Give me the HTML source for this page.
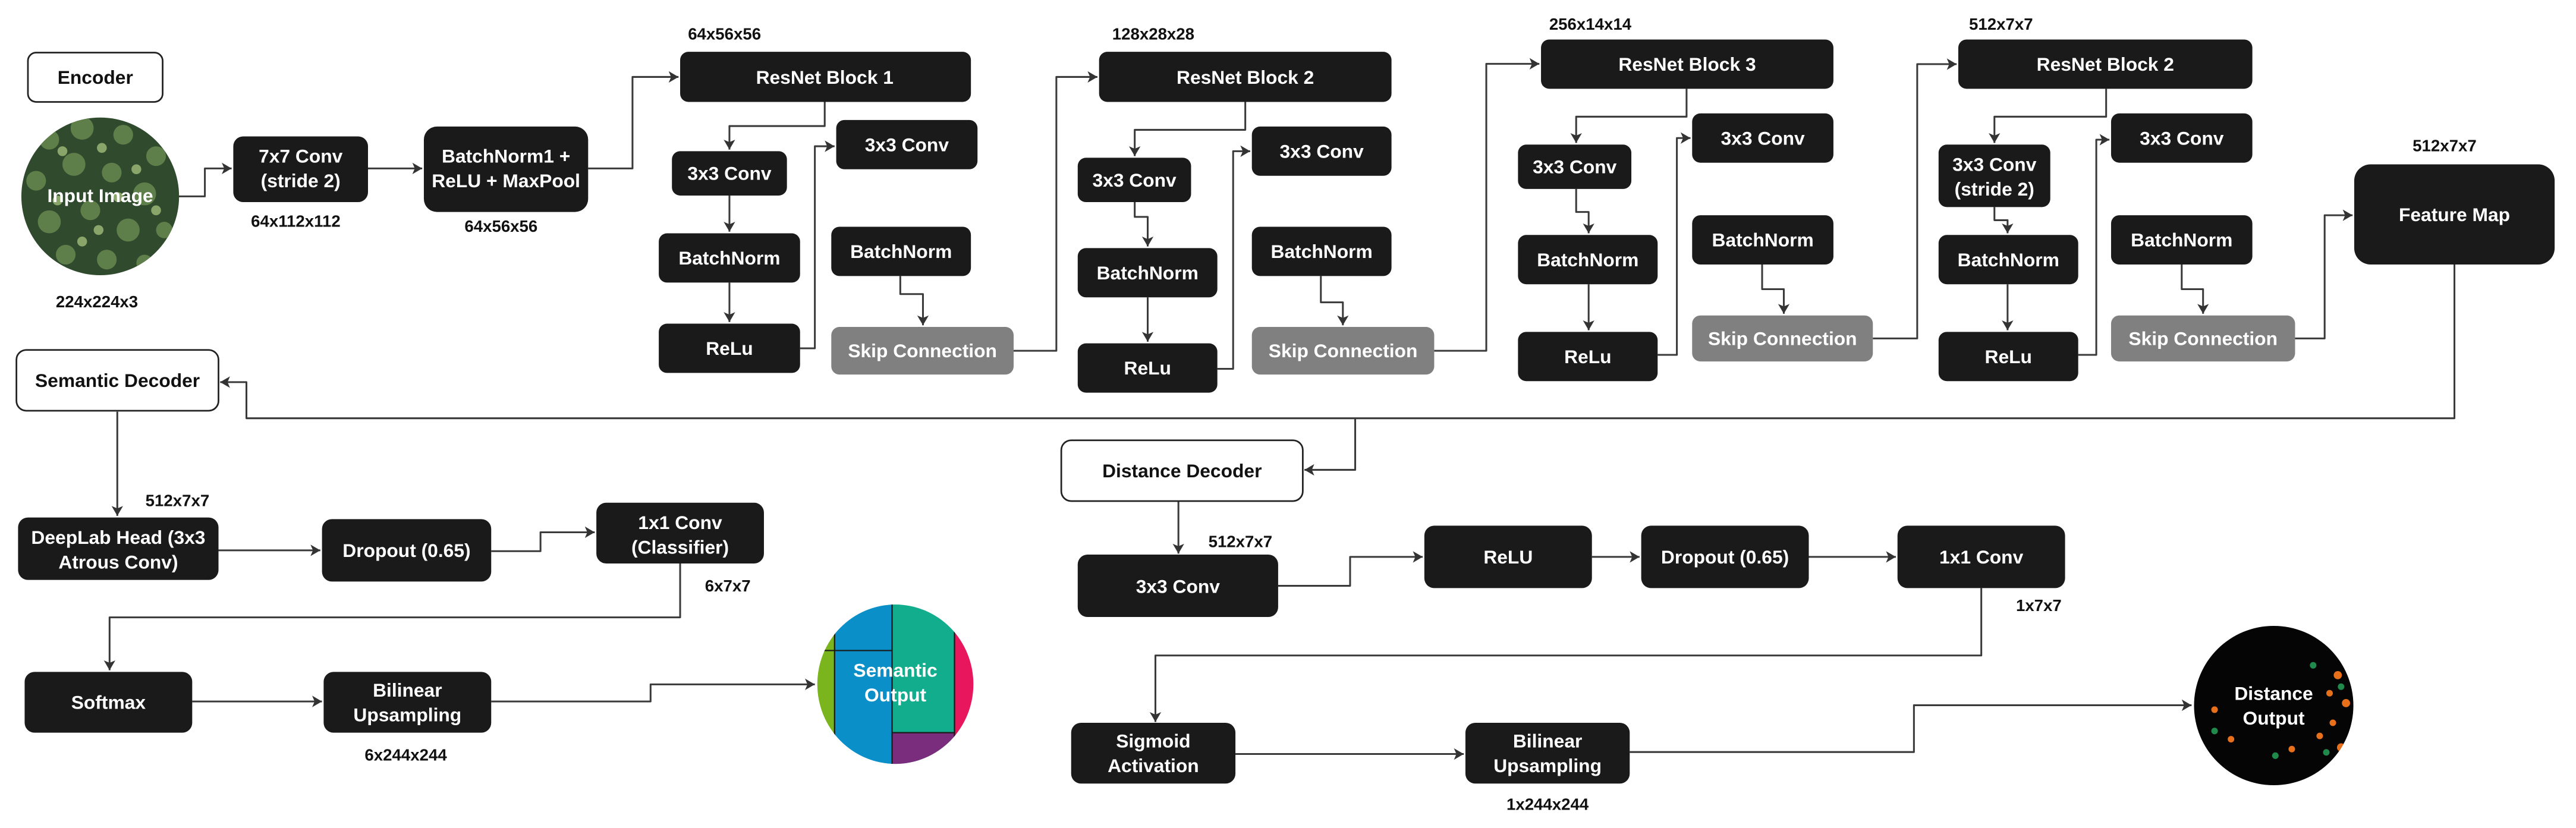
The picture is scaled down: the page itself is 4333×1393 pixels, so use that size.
<!DOCTYPE html>
<html><head><meta charset="utf-8"><style>
html,body{margin:0;padding:0;background:#fff;}
svg{display:block;}
text{font-family:"Liberation Sans",Arial,sans-serif;font-weight:bold;}
</style></head><body>
<svg width="4333" height="1393" viewBox="0 0 1568 504" xmlns="http://www.w3.org/2000/svg">
<defs>
<marker id="a" markerUnits="userSpaceOnUse" markerWidth="8" markerHeight="8" refX="6" refY="4" orient="auto">
<path d="M0,0.5 L6,4 L0,7.5 L1.5,4 Z" fill="#333"/>
</marker>
<clipPath id="c1"><circle cx="61" cy="119.5" r="48"/></clipPath>
<clipPath id="c2"><ellipse cx="545" cy="416.5" rx="47.5" ry="48.5"/></clipPath>
<clipPath id="c3"><ellipse cx="1384" cy="429.5" rx="48.5" ry="48.5"/></clipPath>
</defs>
<rect width="1568" height="504" fill="#fff"/>

<g fill="none" stroke="#3a3a3a" stroke-width="1.1" stroke-linejoin="round" marker-end="url(#a)">
<path d="M108,119.5 H124.7 V102.5 H141"/>
<path d="M224,102.5 H257"/>
<path d="M358,102.5 H385 V46.8 H413"/>
<path d="M502,62 V76.7 H444 V91"/>
<path d="M444,119 V141"/>
<path d="M444,172 V196"/>
<path d="M487,212 H496 V89 H508"/>
<path d="M548,168 V179 H561.8 V198"/>
<path d="M617,213.5 H643 V46.8 H668"/>
<path d="M758,62 V79 H690.7 V95"/>
<path d="M690.7,123 V132 H698.6 V150"/>
<path d="M698.6,181 V208"/>
<path d="M741,224.5 H750.6 V92 H761"/>
<path d="M804,168 V184 H817.4 V198"/>
<path d="M873,213.5 H904.7 V38.8 H937"/>
<path d="M1026.6,54 V71 H959.4 V87"/>
<path d="M959.4,115 V129 H967 V142"/>
<path d="M967,173 V201"/>
<path d="M1009,216 H1020.7 V84 H1029"/>
<path d="M1072.6,161 V176 H1085.8 V191"/>
<path d="M1140,206 H1167 V39 H1191"/>
<path d="M1282,54 V71 H1214 V87"/>
<path d="M1214,126 V134 H1222 V142"/>
<path d="M1222,173 V201"/>
<path d="M1265,216 H1276 V85 H1284"/>
<path d="M1328,161 V176 H1341 V191"/>
<path d="M1397,206 H1415 V131 H1432"/>
<path d="M1494,161 V254.6 H150 V232.6 H134"/>
<path d="M824.9,254.6 V286 H794"/>
<path d="M71.4,250.6 V314"/>
<path d="M133,335 H195"/>
<path d="M299,335.5 H329 V324 H362"/>
<path d="M414,343 V375.8 H66.7 V408"/>
<path d="M117,427 H196"/>
<path d="M299,427 H396 V416.6 H496"/>
<path d="M717.3,305.2 V337"/>
<path d="M778,356.6 H821.8 V339 H866"/>
<path d="M969,339 H998"/>
<path d="M1101,339 H1154"/>
<path d="M1206,358 V399 H703.3 V439.5"/>
<path d="M752,459 H891"/>
<path d="M992,457.8 H1165 V429.3 H1334"/>
</g>

<!-- input image -->
<g clip-path="url(#c1)">
<rect x="10" y="68" width="102" height="104" fill="#2f4a2c"/>
<g fill="#5f7f4a">
<circle cx="30" cy="85" r="6"/><circle cx="50" cy="78" r="7"/><circle cx="75" cy="82" r="6"/><circle cx="95" cy="95" r="6"/>
<circle cx="22" cy="110" r="6"/><circle cx="45" cy="100" r="7"/><circle cx="68" cy="105" r="6"/><circle cx="88" cy="118" r="7"/>
<circle cx="30" cy="135" r="7"/><circle cx="55" cy="128" r="6"/><circle cx="78" cy="140" r="7"/><circle cx="100" cy="140" r="5"/>
<circle cx="40" cy="155" r="6"/><circle cx="65" cy="158" r="6"/><circle cx="88" cy="160" r="5"/><circle cx="18" cy="150" r="4"/>
</g>
<g fill="#8aa56a">
<circle cx="38" cy="92" r="3"/><circle cx="62" cy="90" r="3"/><circle cx="83" cy="103" r="3"/><circle cx="35" cy="122" r="3"/>
<circle cx="60" cy="140" r="3"/><circle cx="95" cy="128" r="3"/><circle cx="50" cy="147" r="3"/><circle cx="72" cy="120" r="3"/>
</g>
</g>
<text x="61" y="123" font-size="11.5" fill="#fff" text-anchor="middle">Input Image</text>

<!-- semantic output -->
<g clip-path="url(#c2)">
<rect x="495" y="366" width="14" height="102" fill="#7ab51d"/>
<rect x="508" y="366" width="35" height="102" fill="#0a8fc8"/>
<rect x="543" y="366" width="38" height="102" fill="#12ad8c"/>
<rect x="581" y="366" width="14" height="102" fill="#e8175d"/>
<rect x="543" y="446" width="38" height="22" fill="#7b2d7d"/>
<g stroke="#1a1a1a" stroke-width="0.8">
<line x1="508" y1="366" x2="508" y2="468"/><line x1="543" y1="366" x2="543" y2="468"/>
<line x1="581" y1="366" x2="581" y2="468"/><line x1="497" y1="396" x2="543" y2="396"/>
<line x1="543" y1="446" x2="581" y2="446"/>
</g>
</g>
<text x="545" y="412" font-size="11.5" fill="#fff" text-anchor="middle">Semantic</text>
<text x="545" y="427" font-size="11.5" fill="#fff" text-anchor="middle">Output</text>

<!-- distance output -->
<g clip-path="url(#c3)">
<rect x="1334" y="380" width="100" height="100" fill="#050505"/>
<g fill="#e8701a"><circle cx="1423" cy="411" r="2.5"/><circle cx="1418" cy="422" r="2"/><circle cx="1428" cy="428" r="2.5"/><circle cx="1420" cy="440" r="2"/><circle cx="1412" cy="448" r="2"/><circle cx="1425" cy="455" r="2.5"/><circle cx="1358" cy="450" r="2"/><circle cx="1348" cy="432" r="2"/><circle cx="1395" cy="456" r="2"/></g>
<g fill="#1f8a4c"><circle cx="1408" cy="405" r="2"/><circle cx="1425" cy="418" r="2"/><circle cx="1348" cy="445" r="2"/><circle cx="1385" cy="460" r="2"/><circle cx="1416" cy="458" r="2"/></g>
</g>
<text x="1384" y="426" font-size="11.5" fill="#fff" text-anchor="middle">Distance</text>
<text x="1384" y="441" font-size="11.5" fill="#fff" text-anchor="middle">Output</text>

<!-- boxes -->
<g font-size="11.5" text-anchor="middle">
<rect x="17" y="32" width="82" height="30" rx="5" fill="#fff" stroke="#222" stroke-width="1"/><text x="58" y="51" fill="#111">Encoder</text>
<rect x="10" y="213" width="123" height="37" rx="6" fill="#fff" stroke="#222" stroke-width="1"/><text x="71.5" y="235.5" fill="#111">Semantic Decoder</text>
<rect x="646" y="268" width="147" height="37" rx="6" fill="#fff" stroke="#222" stroke-width="1"/><text x="719.5" y="290.5" fill="#111">Distance Decoder</text>

<g fill="#1a1a1a">
<rect x="142" y="83" width="82" height="40" rx="6"/>
<rect x="258" y="77" width="100" height="52" rx="8"/>
<rect x="414" y="31.5" width="177" height="30.5" rx="5"/>
<rect x="409" y="92" width="70" height="27" rx="5"/>
<rect x="401" y="142" width="86" height="30" rx="5"/>
<rect x="401" y="197" width="86" height="30" rx="5"/>
<rect x="509" y="73" width="86" height="30" rx="5"/>
<rect x="506" y="138" width="85" height="30" rx="5"/>
<rect x="669" y="31.5" width="178" height="30.5" rx="5"/>
<rect x="656" y="96" width="69" height="27" rx="5"/>
<rect x="656" y="151" width="85" height="30" rx="5"/>
<rect x="656" y="209" width="85" height="30" rx="5"/>
<rect x="762" y="77" width="85" height="30" rx="5"/>
<rect x="762" y="138" width="85" height="30" rx="5"/>
<rect x="938" y="24" width="178" height="30" rx="5"/>
<rect x="924" y="88" width="69" height="27" rx="5"/>
<rect x="924" y="143" width="85" height="30" rx="5"/>
<rect x="924" y="202" width="85" height="30" rx="5"/>
<rect x="1030" y="69" width="86" height="30" rx="5"/>
<rect x="1030" y="131" width="86" height="30" rx="5"/>
<rect x="1192" y="24" width="179" height="30" rx="5"/>
<rect x="1180" y="88" width="68" height="38" rx="5"/>
<rect x="1180" y="143" width="85" height="30" rx="5"/>
<rect x="1180" y="202" width="85" height="30" rx="5"/>
<rect x="1285" y="69" width="86" height="30" rx="5"/>
<rect x="1285" y="131" width="86" height="30" rx="5"/>
<rect x="1433" y="100" width="122" height="61" rx="10"/>
<rect x="11" y="315" width="122" height="38" rx="6"/>
<rect x="196" y="316" width="103" height="38" rx="6"/>
<rect x="363" y="306" width="102" height="37" rx="6"/>
<rect x="15" y="409" width="102" height="37" rx="6"/>
<rect x="197" y="409" width="102" height="37" rx="6"/>
<rect x="656" y="337.6" width="122" height="38" rx="6"/>
<rect x="867" y="320" width="102" height="38" rx="6"/>
<rect x="999" y="320" width="102" height="38" rx="6"/>
<rect x="1155" y="320" width="102" height="38" rx="6"/>
<rect x="652" y="440" width="100" height="37" rx="6"/>
<rect x="892" y="440" width="100" height="37" rx="6"/>
</g>
<g fill="#808080">
<rect x="506" y="199" width="111" height="29" rx="5"/>
<rect x="762" y="199" width="111" height="29" rx="5"/>
<rect x="1030" y="192" width="110" height="28" rx="5"/>
<rect x="1285" y="192" width="112" height="28" rx="5"/>
</g>

<g fill="#fff">
<text x="183" y="99">7x7 Conv</text><text x="183" y="114">(stride 2)</text>
<text x="308" y="99">BatchNorm1 +</text><text x="308" y="114">ReLU + MaxPool</text>
<text x="502" y="51">ResNet Block 1</text>
<text x="444" y="109.5">3x3 Conv</text>
<text x="444" y="161">BatchNorm</text>
<text x="444" y="216">ReLu</text>
<text x="552" y="92">3x3 Conv</text>
<text x="548.5" y="157">BatchNorm</text>
<text x="561.5" y="217.5">Skip Connection</text>
<text x="758" y="51">ResNet Block 2</text>
<text x="690.5" y="113.5">3x3 Conv</text>
<text x="698.5" y="170">BatchNorm</text>
<text x="698.5" y="228">ReLu</text>
<text x="804.5" y="96">3x3 Conv</text>
<text x="804.5" y="157">BatchNorm</text>
<text x="817.5" y="217.5">Skip Connection</text>
<text x="1027" y="43">ResNet Block 3</text>
<text x="958.5" y="105.5">3x3 Conv</text>
<text x="966.5" y="162">BatchNorm</text>
<text x="966.5" y="221">ReLu</text>
<text x="1073" y="88">3x3 Conv</text>
<text x="1073" y="150">BatchNorm</text>
<text x="1085" y="210">Skip Connection</text>
<text x="1281.5" y="43">ResNet Block 2</text>
<text x="1214" y="104">3x3 Conv</text><text x="1214" y="119">(stride 2)</text>
<text x="1222.5" y="162">BatchNorm</text>
<text x="1222.5" y="221">ReLu</text>
<text x="1328" y="88">3x3 Conv</text>
<text x="1328" y="150">BatchNorm</text>
<text x="1341" y="210">Skip Connection</text>
<text x="1494" y="134.5">Feature Map</text>
<text x="72" y="331">DeepLab Head (3x3</text><text x="72" y="346">Atrous Conv)</text>
<text x="247.5" y="339">Dropout (0.65)</text>
<text x="414" y="322">1x1 Conv</text><text x="414" y="337">(Classifier)</text>
<text x="66" y="431.5">Softmax</text>
<text x="248" y="424">Bilinear</text><text x="248" y="439">Upsampling</text>
<text x="717" y="361">3x3 Conv</text>
<text x="918" y="343">ReLU</text>
<text x="1050" y="343">Dropout (0.65)</text>
<text x="1206" y="343">1x1 Conv</text>
<text x="702" y="455">Sigmoid</text><text x="702" y="470">Activation</text>
<text x="942" y="455">Bilinear</text><text x="942" y="470">Upsampling</text>
</g>
</g>

<g font-size="10" fill="#111" text-anchor="middle">
<text x="59" y="187">224x224x3</text>
<text x="180" y="138">64x112x112</text>
<text x="305" y="141">64x56x56</text>
<text x="441" y="24">64x56x56</text>
<text x="702" y="24">128x28x28</text>
<text x="968" y="18">256x14x14</text>
<text x="1218" y="18">512x7x7</text>
<text x="1488" y="92">512x7x7</text>
<text x="108" y="308">512x7x7</text>
<text x="443" y="360">6x7x7</text>
<text x="247" y="463">6x244x244</text>
<text x="755" y="333">512x7x7</text>
<text x="1241" y="372">1x7x7</text>
<text x="942" y="493">1x244x244</text>
</g>
</svg>
</body></html>
